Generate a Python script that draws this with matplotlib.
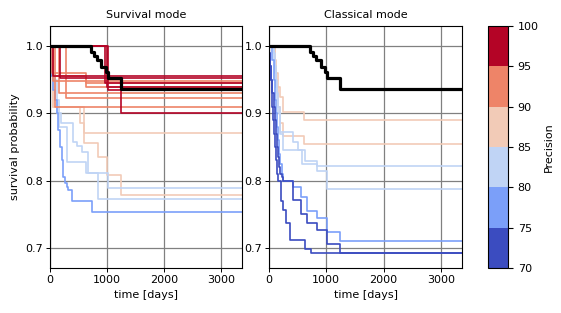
"""Survival curves per precision bin: survival mode vs classical mode."""

import matplotlib
matplotlib.use("Agg")
import matplotlib.pyplot as plt
from matplotlib.colors import BoundaryNorm
from matplotlib.cm import ScalarMappable

T_END = 3400

# reference curve (same in both panels)
black_t = [0, 720, 770, 820, 900, 980, 1010, 1240]
black_s = [1.0, 0.992, 0.986, 0.979, 0.969, 0.962, 0.953, 0.937]

# survival mode: (precision, times, survival)
survival_curves = [
    (88, [0, 60, 530, 600], [1.0, 0.91, 0.885, 0.871]),
    (88, [0, 60, 600, 850, 1000, 1240], [1.0, 0.91, 0.856, 0.835, 0.809, 0.779]),
    (83, [0, 40, 90, 150, 290, 640, 850], [1.0, 0.96, 0.92, 0.88, 0.827, 0.811, 0.772]),
    (83, [0, 60, 120, 200, 400, 480, 560, 670, 1010],
     [1.0, 0.95, 0.9, 0.885, 0.858, 0.851, 0.843, 0.811, 0.789]),
    (78, [0, 15, 50, 87, 115, 145, 175, 203, 233, 262, 290, 320, 378, 730],
     [1.0, 0.955, 0.935, 0.92, 0.9, 0.875, 0.85, 0.83, 0.806, 0.796, 0.79, 0.786,
      0.769, 0.753]),
    (93, [0, 30, 640], [1.0, 0.96, 0.94]),
    (93, [0, 60, 640], [1.0, 0.955, 0.945]),
    (93, [0, 280], [1.0, 0.923]),
    (93, [0, 90], [1.0, 0.909]),
    (93, [0, 150], [1.0, 0.93]),
    (93, [0, 60], [1.0, 0.948]),
    (97, [0, 175], [1.0, 0.952]),
    (97, [0, 970], [1.0, 0.945]),
    (97, [0, 1010, 1240], [1.0, 0.935, 0.901]),
    (97, [0, 1000], [1.0, 0.94]),
    (97, [0, 60], [1.0, 0.955]),
]

# classical mode
classical_curves = [
    (88, [0, 100, 130, 160, 190, 245, 615], [1.0, 0.98, 0.96, 0.94, 0.925, 0.902, 0.89]),
    (88, [0, 100, 130, 160, 190, 245, 615], [1.0, 0.97, 0.94, 0.91, 0.885, 0.867, 0.855]),
    (83, [0, 80, 100, 120, 140, 160, 190, 420, 510, 630, 830],
     [1.0, 0.99, 0.97, 0.95, 0.93, 0.91, 0.873, 0.858, 0.846, 0.829, 0.822]),
    (83, [0, 80, 100, 120, 140, 160, 190, 245, 570, 830, 1005],
     [1.0, 0.98, 0.96, 0.94, 0.92, 0.9, 0.87, 0.845, 0.825, 0.815, 0.788]),
    (78, [0, 60, 80, 100, 120, 140, 160, 180, 200, 220, 245, 420, 567, 655, 830, 1005, 1240],
     [1.0, 0.98, 0.95, 0.92, 0.9, 0.88, 0.86, 0.84, 0.825, 0.81, 0.8, 0.79, 0.776,
      0.755, 0.744, 0.724, 0.71]),
    (73, [0, 20, 40, 60, 80, 100, 120, 140, 160, 180, 200, 220, 245, 420, 567, 655, 830, 1005, 1240],
     [0.99, 0.97, 0.95, 0.93, 0.91, 0.89, 0.87, 0.85, 0.835, 0.82, 0.81, 0.805, 0.8,
      0.771, 0.75, 0.737, 0.727, 0.706, 0.693]),
    (73, [0, 15, 30, 45, 60, 75, 90, 105, 120, 140, 160, 216, 245, 305, 360, 625, 740],
     [0.99, 0.97, 0.95, 0.93, 0.91, 0.89, 0.87, 0.85, 0.83, 0.81, 0.8, 0.77, 0.756,
      0.737, 0.712, 0.698, 0.693]),
]

prec_bounds = [70, 75, 80, 85, 90, 95, 100]
cmap = plt.get_cmap("coolwarm", 6)
norm = BoundaryNorm(prec_bounds, cmap.N)

plt.rcParams["font.size"] = 8

fig = plt.figure(figsize=(5.61, 3.13), dpi=100)
ax1 = fig.add_axes([50 / 561, 45 / 313, 192 / 561, 242 / 313])
ax2 = fig.add_axes([269 / 561, 45 / 313, 193 / 561, 242 / 313])
cax = fig.add_axes([488 / 561, 45 / 313, 20 / 561, 242 / 313])


def draw_panel(ax, curves, title):
    for prec, t, s in curves:
        ax.plot(t + [T_END], s + [s[-1]], drawstyle="steps-post",
                color=cmap(norm(prec)), linewidth=1.2)
    ax.plot(black_t + [T_END], black_s + [black_s[-1]], drawstyle="steps-post",
            color="black", linewidth=2.3, zorder=5)
    ax.set_xlim(0, 3370)
    ax.set_ylim(0.67, 1.03)
    ax.set_xticks([0, 1000, 2000, 3000])
    ax.set_yticks([0.7, 0.8, 0.9, 1.0])
    ax.grid(True, color="#808080", linewidth=0.9)
    ax.set_axisbelow(True)
    ax.set_xlabel("time [days]")
    ax.set_title(title, fontsize=8)
    ax.tick_params(length=3, width=0.7, pad=2)


draw_panel(ax1, survival_curves, "Survival mode")
draw_panel(ax2, classical_curves, "Classical mode")
ax1.set_ylabel("survival probability")

sm = ScalarMappable(norm=norm, cmap=cmap)
cb = fig.colorbar(sm, cax=cax, ticks=prec_bounds)
cb.set_label("Precision")
cb.outline.set_linewidth(0.8)

fig.savefig("out.png", dpi=100)
